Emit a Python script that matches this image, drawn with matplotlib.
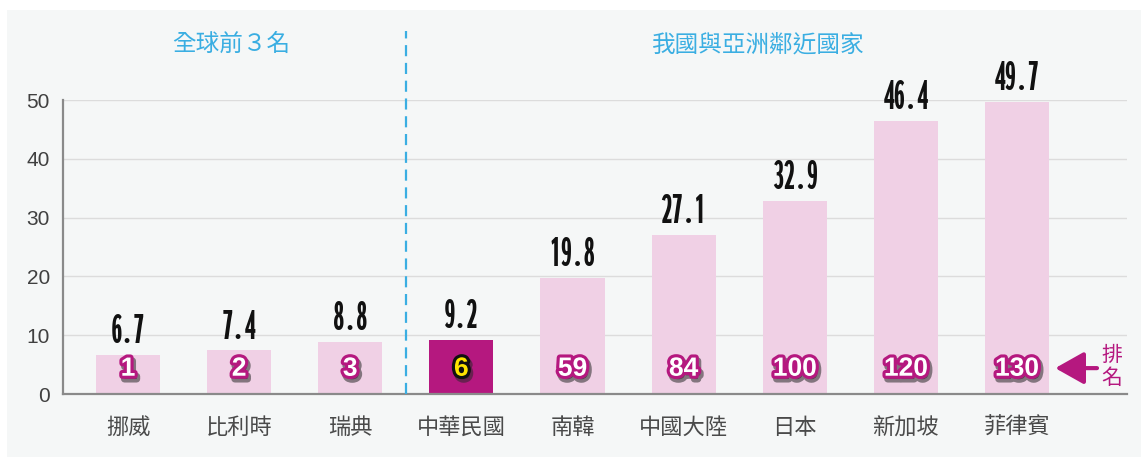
import os
import matplotlib
matplotlib.use("Agg")
import matplotlib.pyplot as plt
import matplotlib.patheffects as pe
from matplotlib.patches import Rectangle
from matplotlib import font_manager as fm

categories = ["挪威", "比利時", "瑞典", "中華民國", "南韓", "中國大陸", "日本", "新加坡", "菲律賓"]
values = [6.7, 7.4, 8.8, 9.2, 19.8, 27.1, 32.9, 46.4, 49.7]
ranks = [1, 2, 3, 6, 59, 84, 100, 120, 130]
highlight = "中華民國"
yticks = [0, 10, 20, 30, 40, 50]
group_titles = ["全球前３名", "我國與亞洲鄰近國家"]
rank_label = "排\n名"

CJK = ["Noto Sans CJK TC", "DejaVu Sans"]
PINK = "#f0d0e5"
MAG = "#b5187f"
BLUE = "#3aaee2"
BG = "#f5f7f7"


# pick the narrowest bold font that is installed for the value labels
def _wt(w):
    if isinstance(w, (int, float)):
        return w
    return {"bold": 700, "heavy": 800, "black": 900, "extra bold": 800, "demibold": 600,
            "semibold": 600}.get(w, 400)


def _narrow_rank(f):
    s = (f.name + " " + os.path.basename(f.fname)).lower().replace(" ", "").replace("-", "")
    if "ultracondensed" in s:
        return 0
    if "extracondensed" in s:
        return 1
    if "narrow" in s:
        return 2
    if "semicondensed" in s:
        return 5
    if "condensed" in s:
        return 3
    if f.stretch in ("condensed", "extra-condensed", "ultra-condensed"):
        return 4
    return 9


best = None
for f in fm.fontManager.ttflist:
    nr = _narrow_rank(f)
    if nr == 9 or _wt(f.weight) < 600 or f.style != "normal":
        continue
    key = (nr, abs(_wt(f.weight) - 800))
    if best is None or key < best[0]:
        best = (key, f.fname)
if best:
    VAL_FP = fm.FontProperties(fname=best[1], size=33)
else:
    VAL_FP = fm.FontProperties(family="DejaVu Sans", weight="bold", size=22)

W, H = 1141, 457
fig = plt.figure(figsize=(W / 100, H / 100), dpi=100, facecolor="white")
fig.patches.append(Rectangle((7 / W, 0), 1 - 7 / W, (H - 10) / H, transform=fig.transFigure,
                             facecolor=BG, edgecolor="none", zorder=-10))

ax_l, ax_r, ax_t, ax_b = 63, 1127, 100, 394
ax = fig.add_axes([ax_l / W, (H - ax_b) / H, (ax_r - ax_l) / W, (ax_b - ax_t) / H])
ax.set_facecolor("none")
ax.set_ylim(0, 50)
ax.set_xlim(-0.585, 8.99)

x = list(range(len(categories)))
colors = [MAG if c == highlight else PINK for c in categories]
ax.bar(x, values, width=0.576, color=colors, zorder=2)

# grid
for t in yticks[1:]:
    ax.axhline(t, color="#dcdcdc", lw=1, zorder=1)
for s in ["top", "right"]:
    ax.spines[s].set_visible(False)
ax.spines["left"].set_color("#8a8a8a")
ax.spines["left"].set_linewidth(1.6)
ax.spines["bottom"].set_color("#8a8a8a")
ax.spines["bottom"].set_linewidth(1.6)
ax.spines["bottom"].set_zorder(3)

ax.set_yticks(yticks)
ax.set_yticklabels([str(t) for t in yticks], fontsize=15, color="#404040", family="Liberation Sans")
ax.tick_params(axis="y", length=0, pad=9.5)
ax.set_xticks(x)
ax.set_xticklabels(categories, fontsize=16, color="#4a4a4a", family=CJK)
ax.tick_params(axis="x", length=0, pad=16)

# value labels
for xi, v in zip(x, values):
    ax.annotate(f"{v:.1f}", (xi, v), xytext=(0, 8.5), textcoords="offset points",
                ha="center", va="baseline", fontproperties=VAL_FP, color="#111111", zorder=5)

# rank labels
for xi, r, c in zip(x, ranks, categories):
    if c == highlight:
        fc, sc = "#ffe400", "#111111"
    else:
        fc, sc = "white", MAG
    ax.text(xi, 4.3, str(r), ha="center", va="center", fontsize=19, fontweight="bold",
            family="Liberation Sans", color=fc, zorder=6,
            path_effects=[pe.SimplePatchShadow(offset=(1.5, -2.4), shadow_rgbFace="#2a2a2a", alpha=0.55,
                                               linewidth=5, foreground="#2a2a2a"),
                          pe.Stroke(linewidth=4.5, foreground=sc), pe.Normal()])

# divider
ax.plot([2.5, 2.5], [0, 61.7], color=BLUE, lw=1.6, ls=(0, (5, 3)), clip_on=False, zorder=4)

# group titles
ax.text(0.93, 59.4, group_titles[0], ha="center", va="center", fontsize=17, color=BLUE, family=CJK)
ax.text(5.67, 59.4, group_titles[1], ha="center", va="center", fontsize=17, color=BLUE, family=CJK)

# rank arrow and label
ax.annotate("", xy=(8.344, 4.4), xytext=(8.72, 4.4),
            arrowprops=dict(arrowstyle="-|>,head_length=0.8,head_width=0.45", color=MAG, lw=3,
                            shrinkA=0, shrinkB=0, mutation_scale=22), annotation_clip=False)
ax.text(8.857, 4.68, rank_label, ha="center", va="center", fontsize=15, color=MAG,
        family=CJK, linespacing=1.0)

fig.savefig("out.png", dpi=100, facecolor="white")
